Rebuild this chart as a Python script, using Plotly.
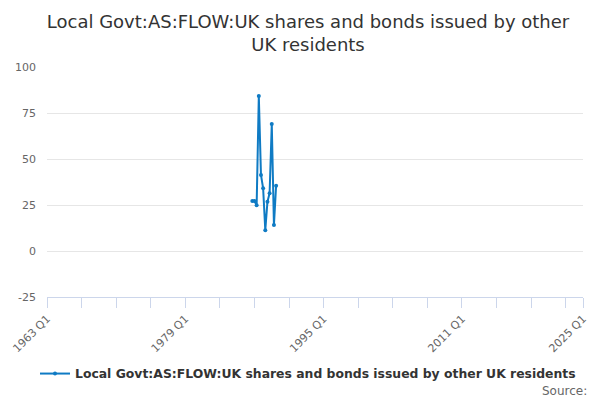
"""
Local Govt:AS:FLOW:UK shares and bonds issued by other UK residents.
Quarterly line on a 1963 Q1 - 2025 Q1 category axis.
"""

import plotly.graph_objects as go

TITLE = "Local Govt:AS:FLOW:UK shares and bonds issued by other<br>UK residents"
SERIES_NAME = "Local Govt:AS:FLOW:UK shares and bonds issued by other UK residents"

quarters = [
    "1986 Q4", "1987 Q1", "1987 Q2", "1987 Q3",
    "1987 Q4", "1988 Q1", "1988 Q2", "1988 Q3",
    "1988 Q4", "1989 Q1", "1989 Q2", "1989 Q3",
]
values = [27.2, 27.2, 24.8, 84.2, 41.3, 34.1, 11.3, 26.8, 31.4, 69.0, 14.1, 35.5]

first_year = 1963
last_year = 2025
label_years = [1963, 1979, 1995, 2011, 2025]
tick_every_years = 4

y_ticks = [-25, 0, 25, 50, 75, 100]
y_tick_text = ["-25", "0", "25", "50", "75", "100"]

BLUE = "#0f7bc4"
GREY = "#666666"
AXIS = "#ccd6eb"


def main() -> None:
    # every quarter on the axis, so the series sits in its place in time
    all_quarters = [f"{y} Q{q}" for y in range(first_year, last_year) for q in range(1, 5)]
    all_quarters.append(f"{last_year} Q1")

    tick_vals = [f"{y} Q1" for y in range(first_year, last_year + 1, tick_every_years)]
    if f"{last_year} Q1" not in tick_vals:
        tick_vals.append(f"{last_year} Q1")
    tick_text = [v if int(v[:4]) in label_years else "" for v in tick_vals]

    fig = go.Figure(
        go.Scatter(
            name=SERIES_NAME,
            x=quarters,
            y=values,
            mode="lines+markers",
            line=dict(color=BLUE, width=2),
            marker=dict(color=BLUE, size=4),
        )
    )
    # the page body adds an 8px offset, so margins are trimmed by that much
    fig.update_layout(
        title=dict(
            text=TITLE,
            x=0.5,
            xanchor="center",
            y=0.95,
            yanchor="top",
            font=dict(family="DejaVu Sans", size=18, color="#333333"),
        ),
        font=dict(family="DejaVu Sans", color=GREY, size=11),
        width=600,
        height=400,
        margin=dict(l=39, r=25, t=59, b=111),
        plot_bgcolor="white",
        paper_bgcolor="white",
        showlegend=True,
        legend=dict(
            orientation="h",
            x=0.5,
            xanchor="center",
            xref="container",
            y=0.085,
            yanchor="middle",
            yref="container",
            font=dict(family="DejaVu Sans", size=12.4, color="#333333", weight="bold"),
        ),
        annotations=[
            dict(
                text="Source:",
                xref="paper",
                yref="paper",
                x=1.011,
                y=-0.409,
                xanchor="right",
                yanchor="middle",
                showarrow=False,
                font=dict(family="DejaVu Sans", size=12, color=GREY),
            )
        ],
    )
    fig.update_xaxes(
        type="category",
        categoryorder="array",
        categoryarray=all_quarters,
        range=[0, len(all_quarters) - 1],
        tickmode="array",
        tickvals=tick_vals,
        ticktext=tick_text,
        tickangle=-45,
        ticks="outside",
        ticklen=10,
        tickcolor=AXIS,
        showline=True,
        linecolor=AXIS,
        showgrid=False,
        automargin=False,
        tickfont=dict(size=11, color=GREY),
    )
    fig.update_yaxes(
        range=[-25, 100],
        tickmode="array",
        tickvals=y_ticks,
        ticktext=y_tick_text,
        showgrid=True,
        gridcolor="#e6e6e6",
        zeroline=False,
        ticks="",
        ticklabelstandoff=10,
        automargin=False,
        tickfont=dict(size=11, color=GREY),
    )
    fig.write_html("out.html")


if __name__ == "__main__":
    main()
